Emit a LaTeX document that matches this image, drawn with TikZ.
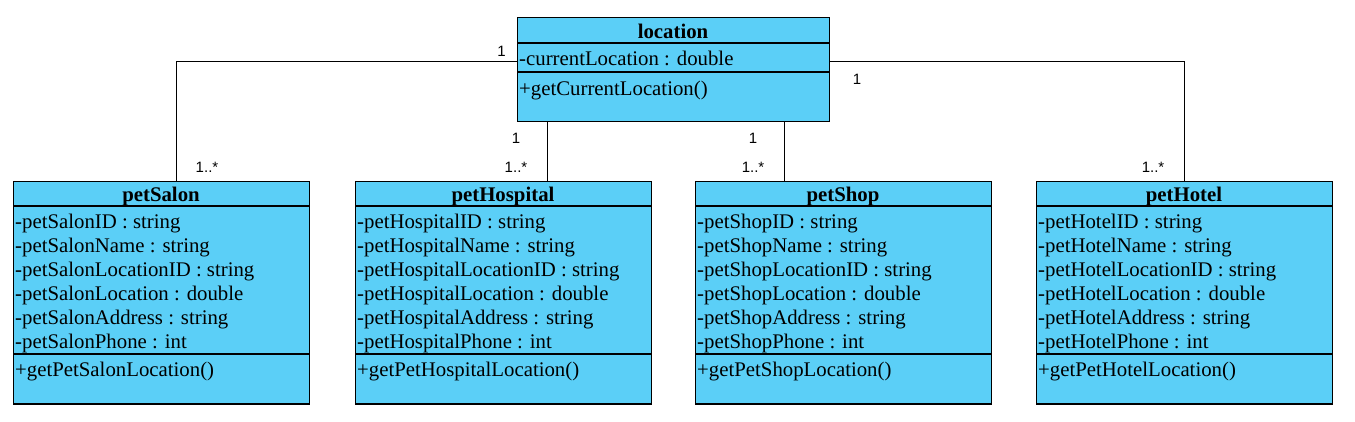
\documentclass[tikz,border=0pt]{standalone}
\usepackage{fontspec}
\setmainfont{Liberation Serif}
\newfontfamily\labelfont{Liberation Sans}
\usetikzlibrary{positioning}
\definecolor{classblue}{RGB}{91,207,247}

\begin{document}
\begin{tikzpicture}[x=1pt, y=-1pt,
    classbox/.style={draw, fill=classblue, line width=1.2pt, inner sep=0pt, anchor=north west, minimum width=296pt, minimum height=222.3pt},
    title/.style={anchor=base, inner sep=0pt, font=\fontsize{20.8}{24}\selectfont\bfseries},
    attr/.style={anchor=base west, inner sep=0pt, font=\fontsize{20.8}{24}\selectfont},
    mult/.style={inner sep=0pt, font=\labelfont\fontsize{15}{17}\selectfont},
    link/.style={line width=1.1pt}]
  \useasboundingbox (0,0) rectangle (1355,422);

  % location
  \node[classbox, minimum width=312pt, minimum height=104pt] (loc) at (517,17) {};
  \draw[link] ([yshift=-26pt]loc.north west) -- ([yshift=-26pt]loc.north east);
  \draw[link] ([yshift=-55pt]loc.north west) -- ([yshift=-55pt]loc.north east);
  \node[title] (locT) at (673,38.5) {location};
  \node[attr] (locA) at (519,66) {-currentLocation : double};
  \node[attr] (locM) at (519,96) {+getCurrentLocation()};

  % the four classes
  \node[classbox] (salon) at (13,181) {};
  \node[classbox] (hosp) at (355,181) {};
  \node[classbox] (shop) at (695,181) {};
  \node[classbox] (hotel) at (1036,181) {};
  \foreach \c in {salon,hosp,shop,hotel}{
    \draw[link] ([yshift=-25pt]\c.north west) -- ([yshift=-25pt]\c.north east);
    \draw[link] ([yshift=-173pt]\c.north west) -- ([yshift=-173pt]\c.north east);
  }

  \node[title] (salonT) at (161,201.5) {petSalon};
  \foreach \t [count=\i] in {-petSalonID : string, -petSalonName : string, -petSalonLocationID : string, -petSalonLocation : double, -petSalonAddress : string, -petSalonPhone : int}
    \node[attr] (salon-\i) at (15,205.2+23.8*\i) {\t};
  \node[attr] (salonM) at (15,376) {+getPetSalonLocation()};

  \node[title] (hospT) at (503,201.5) {petHospital};
  \foreach \t [count=\i] in {-petHospitalID : string, -petHospitalName : string, -petHospitalLocationID : string, -petHospitalLocation : double, -petHospitalAddress : string, -petHospitalPhone : int}
    \node[attr] (hosp-\i) at (357,205.2+23.8*\i) {\t};
  \node[attr] (hospM) at (357,376) {+getPetHospitalLocation()};

  \node[title] (shopT) at (843,201.5) {petShop};
  \foreach \t [count=\i] in {-petShopID : string, -petShopName : string, -petShopLocationID : string, -petShopLocation : double, -petShopAddress : string, -petShopPhone : int}
    \node[attr] (shop-\i) at (697,205.2+23.8*\i) {\t};
  \node[attr] (shopM) at (697,376) {+getPetShopLocation()};

  \node[title] (hotelT) at (1184,201.5) {petHotel};
  \foreach \t [count=\i] in {-petHotelID : string, -petHotelName : string, -petHotelLocationID : string, -petHotelLocation : double, -petHotelAddress : string, -petHotelPhone : int}
    \node[attr] (hotel-\i) at (1038,205.2+23.8*\i) {\t};
  \node[attr] (hotelM) at (1038,376) {+getPetHotelLocation()};

  % associations
  \draw[link] ([yshift=-44.5pt]loc.north west) -| ([xshift=15pt]salon.north);
  \draw[link] ([xshift=-126.5pt]loc.south) -- ([xshift=-126.5pt]loc.south |- hosp.north);
  \draw[link] ([xshift=110.5pt]loc.south) -- ([xshift=110.5pt]loc.south |- shop.north);
  \draw[link] ([yshift=-44.5pt]loc.north east) -| (hotel.north);

  \node[mult] (m1a) at (501.5,51) {1};
  \node[mult] (m1b) at (207,167) {1..*};
  \node[mult] (m2a) at (516,138) {1};
  \node[mult] (m2b) at (516,167) {1..*};
  \node[mult] (m3a) at (753,138) {1};
  \node[mult] (m3b) at (753,167) {1..*};
  \node[mult] (m4a) at (857,79) {1};
  \node[mult] (m4b) at (1153,167) {1..*};
\end{tikzpicture}
\end{document}
